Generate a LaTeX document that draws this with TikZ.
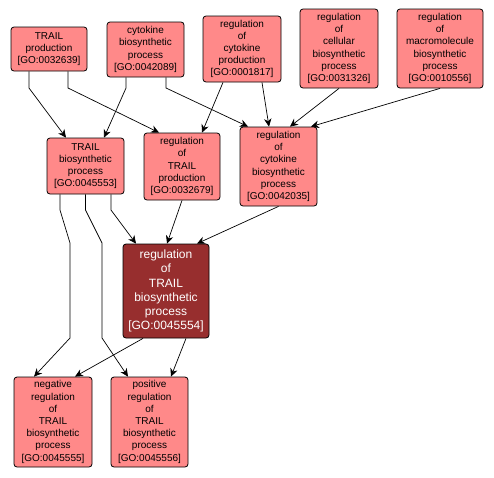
\documentclass[tikz,border=0pt]{standalone}
\usepackage{fontspec}
\setmainfont{Liberation Sans}
\usepackage{xcolor}
\usepackage{tikz}
\usetikzlibrary{calc}
\usetikzlibrary{arrows.meta}
\usetikzlibrary{positioning}

\definecolor{golight}{RGB}{255,137,137}
\definecolor{godark}{RGB}{151,46,46}

\begin{document}
\begin{tikzpicture}[x=1pt,y=-1pt]
% 1 px = 1 pt, y grows downwards
    \def\BENDONE{88}   %bend of top connectors
    \def\BENDTWO{210}  %bend below TRAIL biosynthetic
    \def\BENDTHREE{243}
    \def\BENDFOUR{338}

    \tikzset{
      term/.style={draw=black, fill=golight, rounded corners=3pt,
        align=center, inner sep=0pt, line width=0.8pt,
        font=\fontsize{10}{12.2}\selectfont},
      focus/.style={term, fill=godark, text=white,
        font=\fontsize{12}{14.1}\selectfont},
      isa/.style={-{Stealth[length=8pt,width=7.5pt]}, line width=0.7pt, black},
    }

    \useasboundingbox (0,0) rectangle (494,477);

    % TOP ROW
    \node[term, minimum width=76pt, minimum height=44pt] (tp) at (49,49)
        {TRAIL\\production\\{[GO:0032639]}};
    \node[term, minimum width=77pt, minimum height=55pt] (cbp) at (145.5,49.5)
        {cytokine\\biosynthetic\\process\\{[GO:0042089]}};
    \node[term, minimum width=78pt, minimum height=66pt] (rcp) at (242,49)
        {regulation\\of\\cytokine\\production\\{[GO:0001817]}};
    \node[term, minimum width=78pt, minimum height=79pt] (rclbp) at (339,48.5)
        {regulation\\of\\cellular\\biosynthetic\\process\\{[GO:0031326]}};
    \node[term, minimum width=86pt, minimum height=79pt] (rmbp) at (440,48.5)
        {regulation\\of\\macromolecule\\biosynthetic\\process\\{[GO:0010556]}};

    % SECOND ROW
    \node[term, minimum width=77pt, minimum height=56pt] (tbp) at (85.5,166)
        {TRAIL\\biosynthetic\\process\\{[GO:0045553]}};
    \node[term, minimum width=76pt, minimum height=67pt] (rtp) at (182,166.5)
        {regulation\\of\\TRAIL\\production\\{[GO:0032679]}};
    \node[term, minimum width=77pt, minimum height=79pt] (rcybp) at (278.5,166.5)
        {regulation\\of\\cytokine\\biosynthetic\\process\\{[GO:0042035]}};

    % FOCUS TERM
    \node[focus, minimum width=86pt, minimum height=94pt] (rtbp) at (166,291)
        {regulation\\of\\TRAIL\\biosynthetic\\process\\{[GO:0045554]}};

    % BOTTOM ROW
    \node[term, minimum width=78pt, minimum height=90pt] (nrtbp) at (53,422)
        {negative\\regulation\\of\\TRAIL\\biosynthetic\\process\\{[GO:0045555]}};
    \node[term, minimum width=77pt, minimum height=90pt] (prtbp) at (149.5,422)
        {positive\\regulation\\of\\TRAIL\\biosynthetic\\process\\{[GO:0045556]}};

    % CONNECTORS FROM TOP ROW
    \draw[isa] ([xshift=-20pt]tp.south) -- ([xshift=-20pt]tp.south |- 0,\BENDONE)
        -- ([xshift=-19.5pt]tbp.north);
    \draw[isa] ([xshift=19pt]tp.south) -- ([xshift=19pt]tp.south |- 0,\BENDONE)
        -- ([xshift=-23pt]rtp.north);
    \draw[isa] ([xshift=-19.5pt]cbp.south) -- ([xshift=-19.5pt]cbp.south |- 0,\BENDONE)
        -- ([xshift=18.5pt]tbp.north);
    \draw[isa] ([xshift=20.5pt]cbp.south) -- ([xshift=20.5pt]cbp.south |- 0,\BENDONE)
        -- ([xshift=-30.5pt]rcybp.north);
    \draw[isa] ([xshift=-19pt]rcp.south) -- ([xshift=20pt]rtp.north);
    \draw[isa] ([xshift=20pt]rcp.south) -- ([xshift=-9.5pt]rcybp.north);
    \draw[isa] (rclbp.south) -- ([xshift=11.5pt]rcybp.north);
    \draw[isa] (rmbp.south) -- ([xshift=32.5pt]rcybp.north);

    % CONNECTORS INTO FOCUS TERM
    \draw[isa] ([xshift=25.5pt]tbp.south) -- ([xshift=25.5pt]tbp.south |- 0,\BENDTWO)
        -- ([xshift=-30pt]rtbp.north);
    \draw[isa] (rtp.south) -- ([xshift=1pt]rtbp.north);
    \draw[isa] (rcybp.south) -- ([xshift=31pt]rtbp.north);

    % CONNECTORS TO BOTTOM ROW
    \draw[isa] ([xshift=-25.5pt]tbp.south) -- ([xshift=-25.5pt]tbp.south |- 0,\BENDTWO)
        -- (70,\BENDTHREE) -- (70,\BENDFOUR) -- ([xshift=-19pt]nrtbp.north);
    \draw[isa] (tbp.south) -- (tbp.south |- 0,\BENDTWO)
        -- (102,\BENDTHREE) -- (102,\BENDFOUR) -- ([xshift=-21.5pt]prtbp.north);
    \draw[isa] ([xshift=-23pt]rtbp.south) -- ([xshift=22pt]nrtbp.north);
    \draw[isa] ([xshift=20pt]rtbp.south) -- ([xshift=21.5pt]prtbp.north);

\end{tikzpicture}
\end{document}
